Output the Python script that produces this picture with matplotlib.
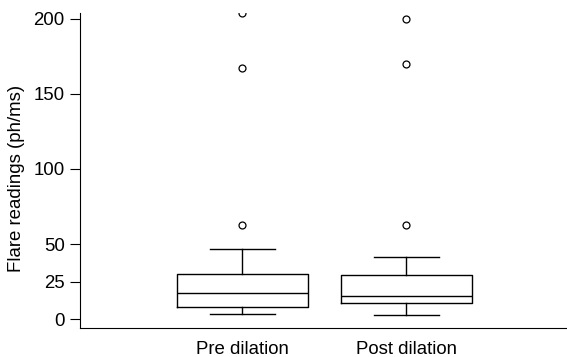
import matplotlib
matplotlib.use('Agg')
import matplotlib.pyplot as plt

plt.rcParams.update({
    'font.family': ['Liberation Sans', 'DejaVu Sans'],
    'font.size': 13.4,
})

# box statistics (ph/ms)
groups = ['Pre dilation', 'Post dilation']
medians = [17.5, 15.5]
q1 = [8.0, 10.4]
q3 = [30.0, 29.3]
whisker_low = [3.3, 2.9]
whisker_high = [46.7, 41.3]
outliers = [[63, 167, 204], [63, 170, 200]]

stats = []
for i, name in enumerate(groups):
    stats.append({
        'label': name,
        'med': medians[i],
        'q1': q1[i],
        'q3': q3[i],
        'whislo': whisker_low[i],
        'whishi': whisker_high[i],
        'fliers': outliers[i],
    })

fig = plt.figure(figsize=(5.67, 3.57), dpi=100)
ax = fig.add_axes([0.141, 0.081, 0.859, 0.883])

ax.bxp(stats, positions=[1, 2], widths=0.8, capwidths=0.4,
       boxprops=dict(color='black', linewidth=1.0),
       medianprops=dict(color='black', linewidth=1.0),
       whiskerprops=dict(color='black', linewidth=1.0),
       capprops=dict(color='black', linewidth=1.0),
       flierprops=dict(marker='o', markersize=5, markerfacecolor='white',
                       markeredgecolor='black', markeredgewidth=0.9))

ax.set_xlim(0.009, 2.979)
ax.set_ylim(-6, 204)
ax.set_yticks([0, 25, 50, 100, 150, 200])
ax.set_ylabel('Flare readings (ph/ms)')
ax.yaxis.set_label_coords(-0.112, 0.475)

ax.spines['top'].set_visible(False)
ax.spines['right'].set_visible(False)
ax.tick_params(axis='x', length=0, pad=9)
ax.tick_params(axis='y', length=7, width=0.8, pad=4)

fig.savefig('out.png', dpi=100)
